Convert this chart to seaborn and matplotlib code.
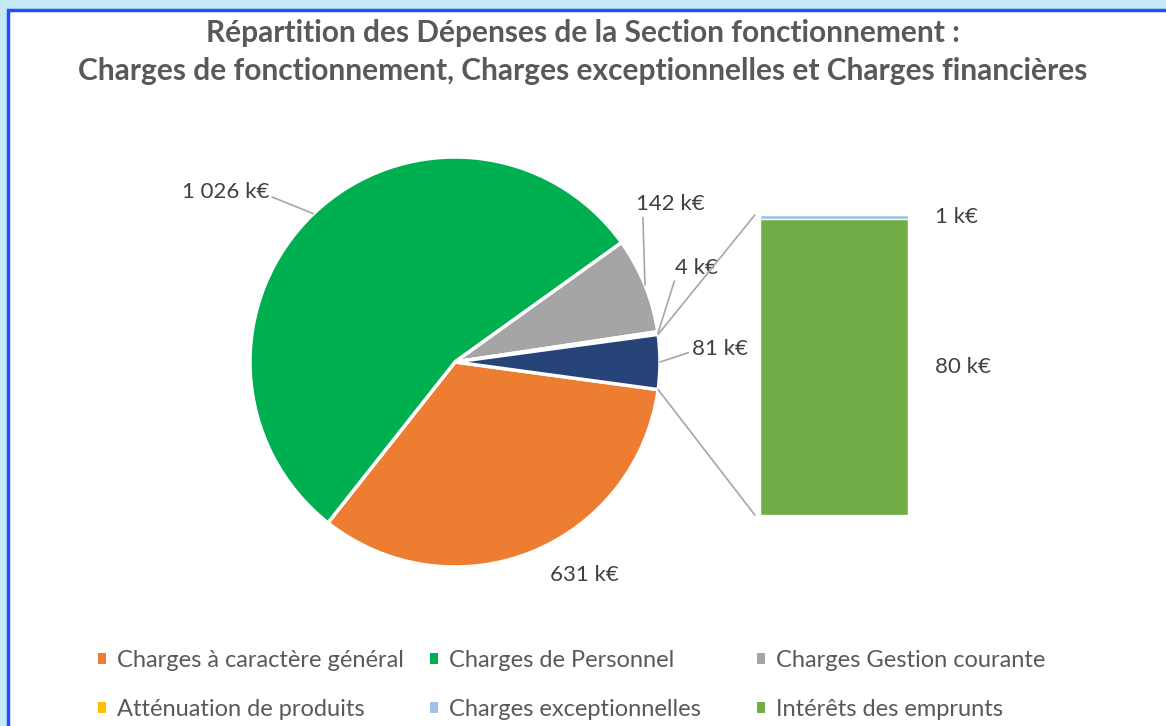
import matplotlib.pyplot as plt
import numpy as np
import seaborn as sns
from matplotlib.patches import ConnectionPatch, Patch, Rectangle

# Données du camembert (k€) ; la dernière part = "Autre" (détaillée dans la barre)
pie_labels = ["Charges à caractère général", "Charges de Personnel",
              "Charges Gestion courante", "Atténuation de produits"]
pie_values = [631, 1026, 142, 4]
pie_colors = ["#ED7D31", "#00B050", "#A5A5A5", "#FFC000"]

# Données de la barre (détail de la part "Autre")
bar_labels = ["Intérêts des emprunts", "Charges exceptionnelles"]
bar_values = [80, 1]
bar_colors = ["#70AD47", "#9DC3E6"]
other_color = "#264478"

W, H = 1166, 726
sns.set_theme(style="white")
plt.rcParams["font.family"] = ["Lato", "DejaVu Sans"]

text_grey = "#595959"
label_grey = "#404040"


def fig_box(x0, y0, x1, y1):
    # boîte en pixels (origine en haut à gauche) -> coordonnées figure
    return [x0 / W, 1 - y1 / H, (x1 - x0) / W, (y1 - y0) / H]


fig = plt.figure(figsize=(W / 100, H / 100), dpi=100)
fig.patch.set_facecolor("#C6E9F8")
fig.add_artist(Rectangle((7.5 / W, -0.05), 1.1, 1 - 9.5 / H + 0.05, transform=fig.transFigure,
                         facecolor="white", edgecolor="#1F4FFF", linewidth=2.5, zorder=-1))

# Titre
fig.text(0.5, 1 - 33 / H, "Répartition des Dépenses de la Section fonctionnement :",
         ha="center", va="center", fontsize=21.5, fontweight="bold", color=text_grey)
fig.text(0.5, 1 - 71 / H, "Charges de fonctionnement, Charges exceptionnelles et Charges financières",
         ha="center", va="center", fontsize=21.5, fontweight="bold", color=text_grey)

# Camembert
other_total = sum(bar_values)
values = pie_values + [other_total]
colors = pie_colors + [other_color]
total = sum(values)
other_angle = 360 * other_total / total

ax_pie = fig.add_axes(fig_box(250, 157, 660, 567))
wedges, _ = ax_pie.pie(values, colors=colors, startangle=-other_angle / 2, counterclock=False,
                       radius=1, wedgeprops=dict(edgecolor="white", linewidth=2.5))
ax_pie.set_xlim(-1, 1)
ax_pie.set_ylim(-1, 1)
ax_pie.axis("off")

# Étiquettes avec lignes de rappel
label_pos = [(0.63, -1.04), (-1.12, 0.83), (1.05, 0.77), (1.18, 0.46), (1.29, 0.065)]
label_relpos = [None, (1, 0.3), (0.1, 0), (0, 0), (0, 0.35)]
for w, v, pos, rp in zip(wedges, values, label_pos, label_relpos):
    mid = np.deg2rad((w.theta1 + w.theta2) / 2)
    edge = (np.cos(mid), np.sin(mid))
    txt = f"{v:,} k€".replace(",", " ")
    if rp is None:
        ax_pie.text(pos[0], pos[1], txt, ha="center", va="center", fontsize=16, color=label_grey)
    else:
        ax_pie.annotate(txt, xy=edge, xytext=pos, ha="center", va="center", fontsize=16,
                        color=label_grey, annotation_clip=False,
                        arrowprops=dict(arrowstyle="-", color="#A6A6A6", lw=1.2,
                                        shrinkA=0, shrinkB=0, relpos=rp))

# Barre empilée
ax_bar = fig.add_axes(fig_box(760, 215, 908, 515))
ax_bar.patch.set_alpha(0)
sns.barplot(x=[0], y=[other_total], color=bar_colors[1], width=1, saturation=1,
            edgecolor="white", linewidth=1, ax=ax_bar)
sns.barplot(x=[0], y=[bar_values[0]], color=bar_colors[0], width=1, saturation=1,
            edgecolor="white", linewidth=1, ax=ax_bar)
ax_bar.set_xlim(-0.5, 0.5)
ax_bar.set_ylim(0, other_total)
ax_bar.axis("off")

bottom = 0
for v in bar_values:
    ax_bar.text(0.68, bottom + v / 2, f"{v} k€", ha="left", va="center", fontsize=16,
                color=label_grey, clip_on=False)
    bottom += v

# Lignes reliant le camembert à la barre
half = np.deg2rad(other_angle / 2)
for sign, yb in [(1, other_total), (-1, 0)]:
    con = ConnectionPatch(xyA=(np.cos(half), sign * np.sin(half)), coordsA=ax_pie.transData,
                          xyB=(-0.535, yb), coordsB=ax_bar.transData,
                          color="#A6A6A6", lw=1.2)
    fig.add_artist(con)

# Légende (trois colonnes, deux lignes)
leg_items = list(zip(pie_labels + bar_labels[::-1], pie_colors + bar_colors[::-1]))
order = [[0, 3], [1, 4], [2, 5]]
col_x = [86, 418, 745]
for cx, idx in zip(col_x, order):
    handles = [Patch(facecolor=leg_items[i][1], edgecolor="none") for i in idx]
    names = [leg_items[i][0] for i in idx]
    fig.legend(handles, names, loc="upper left", bbox_to_anchor=(cx / W, 1 - 638 / H),
               frameon=False, fontsize=17, handlelength=0.35, handleheight=0.35,
               handletextpad=0.45, labelspacing=1.2, labelcolor=text_grey, borderpad=0)

fig.savefig("out.png", dpi=100)
